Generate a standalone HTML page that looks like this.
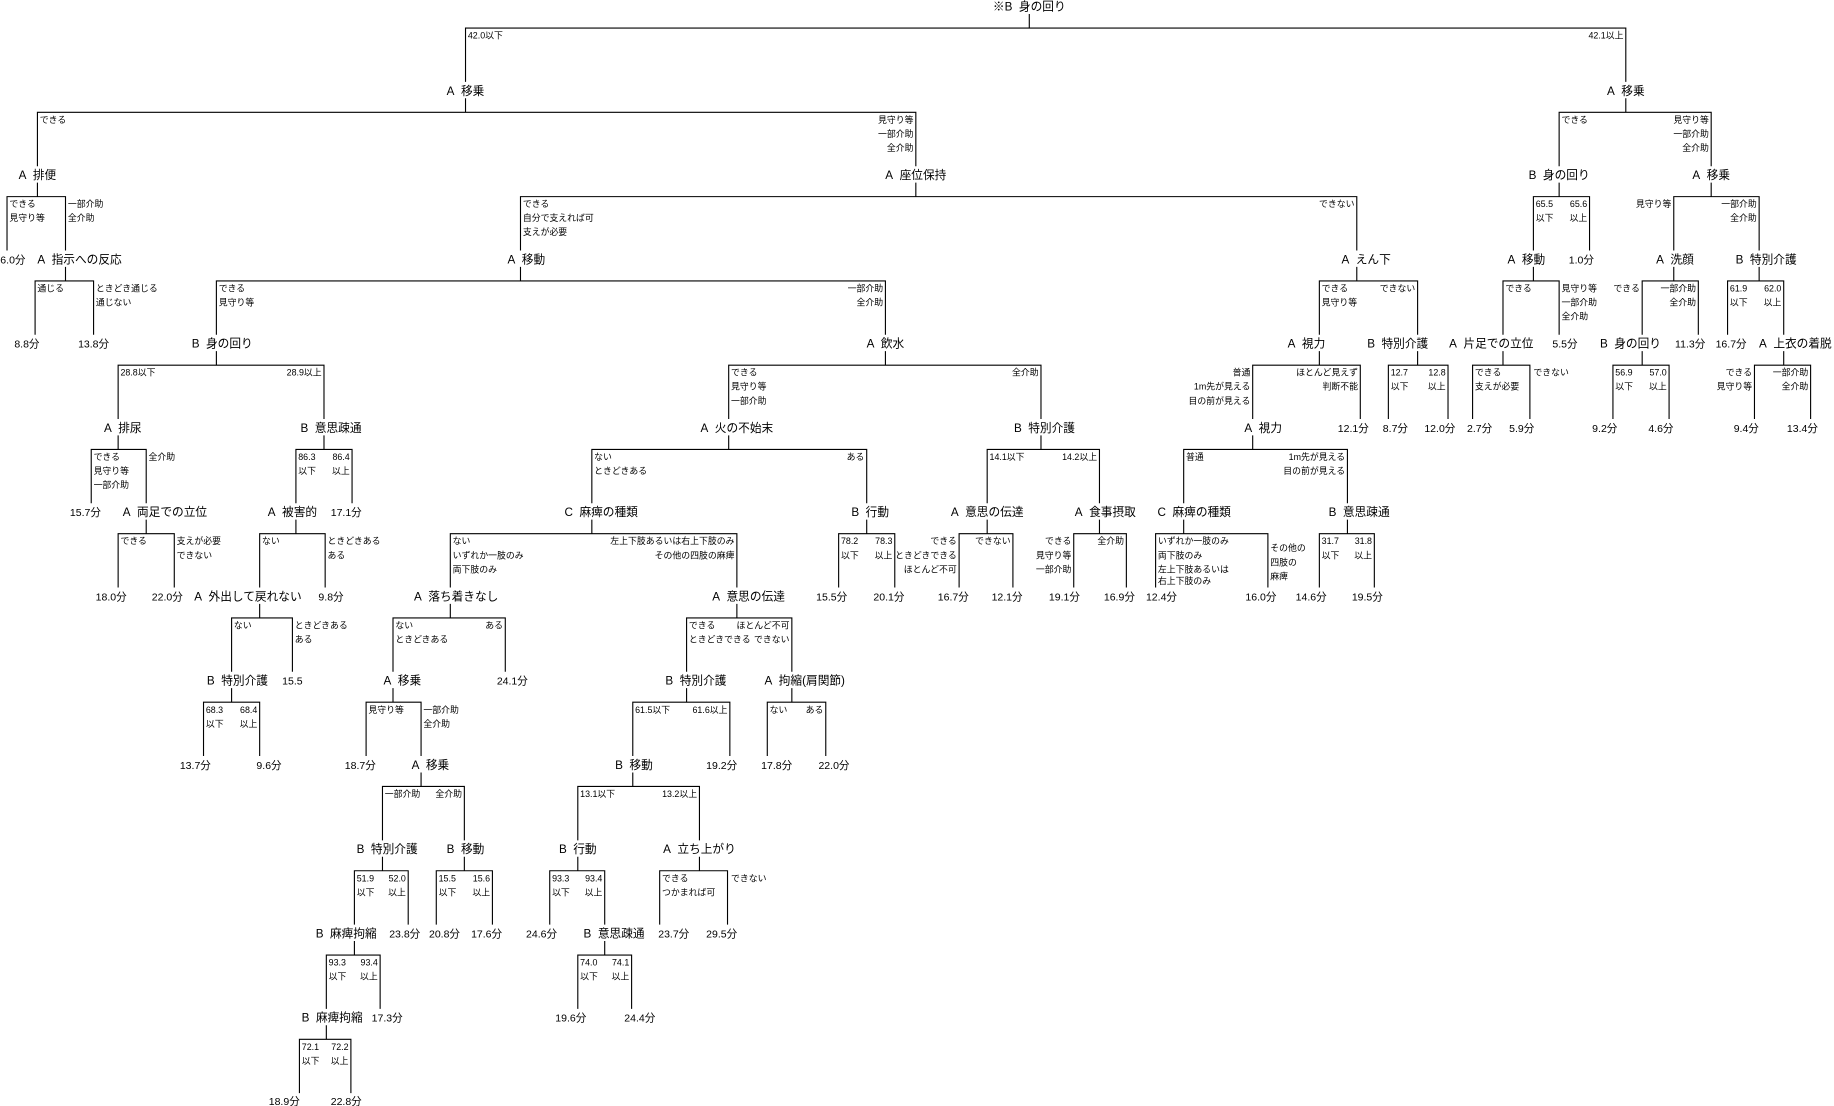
<!DOCTYPE html>
<html><head><meta charset="utf-8"><style>
html,body{margin:0;padding:0;background:#fff;width:1834px;height:1106px;overflow:hidden}
svg{display:block}
text{font-family:"Liberation Sans","Noto Sans CJK JP",sans-serif;fill:#000}
.n{font-size:10px;text-anchor:middle}
.l{font-size:9px;text-anchor:middle}
.e{font-size:7.6px}
.r{text-anchor:end}
path{stroke:#000;stroke-width:0.95;fill:none}
</style></head><body>
<svg width="1834" height="1106" viewBox="0 0 1568 945" preserveAspectRatio="none">
<text class="n" x="880" y="9">※B&#160;&#160;身の回り</text>
<path d="M880 12V24M398 70V24H1390V70"/>
<text class="e" x="400" y="33">42.0以下</text>
<text class="e r" x="1388" y="33">42.1以上</text>

<text class="n" x="398" y="81">A&#160;&#160;移乗</text>
<path d="M398 84V96M32 142V96H783V142"/>
<text class="e" x="34" y="105">できる</text>
<text class="e r" x="781" y="105">見守り等</text><text class="e r" x="781" y="117">一部介助</text><text class="e r" x="781" y="129">全介助</text>
<text class="n" x="1390" y="81">A&#160;&#160;移乗</text>
<path d="M1390 84V96M1333 142V96H1463V142"/>
<text class="e" x="1335" y="105">できる</text>
<text class="e r" x="1461" y="105">見守り等</text><text class="e r" x="1461" y="117">一部介助</text><text class="e r" x="1461" y="129">全介助</text>

<text class="n" x="32" y="153">A&#160;&#160;排便</text>
<path d="M32 156V168M6 214V168H56V214"/>
<text class="e" x="8" y="177">できる</text><text class="e" x="8" y="189">見守り等</text>
<text class="e" x="58" y="177">一部介助</text><text class="e" x="58" y="189">全介助</text>
<text class="n" x="783" y="153">A&#160;&#160;座位保持</text>
<path d="M783 156V168M445 214V168H1160V214"/>
<text class="e" x="447" y="177">できる</text><text class="e" x="447" y="189">自分で支えれば可</text><text class="e" x="447" y="201">支えが必要</text>
<text class="e r" x="1158" y="177">できない</text>
<text class="n" x="1333" y="153">B&#160;&#160;身の回り</text>
<path d="M1333 156V168M1311 214V168H1359V214"/>
<text class="e" x="1313" y="177">65.5</text><text class="e" x="1313" y="189">以下</text>
<text class="e r" x="1357" y="177">65.6</text><text class="e r" x="1357" y="189">以上</text>
<text class="n" x="1463" y="153">A&#160;&#160;移乗</text>
<path d="M1463 156V168M1431 214V168H1504V214"/>
<text class="e r" x="1429" y="177">見守り等</text>
<text class="e r" x="1502" y="177">一部介助</text><text class="e r" x="1502" y="189">全介助</text>

<text class="l" x="11" y="225">6.0分</text>
<text class="n" x="68" y="225">A&#160;&#160;指示への反応</text>
<path d="M56 228V240M30 286V240H80V286"/>
<text class="e" x="32" y="249">通じる</text>
<text class="e" x="82" y="249">ときどき通じる</text><text class="e" x="82" y="261">通じない</text>
<text class="n" x="450" y="225">A&#160;&#160;移動</text>
<path d="M445 228V240M185 286V240H757V286"/>
<text class="e" x="187" y="249">できる</text><text class="e" x="187" y="261">見守り等</text>
<text class="e r" x="755" y="249">一部介助</text><text class="e r" x="755" y="261">全介助</text>
<text class="n" x="1168" y="225">A&#160;&#160;えん下</text>
<path d="M1160 228V240M1128 286V240H1212V286"/>
<text class="e" x="1130" y="249">できる</text><text class="e" x="1130" y="261">見守り等</text>
<text class="e r" x="1210" y="249">できない</text>
<text class="n" x="1305" y="225">A&#160;&#160;移動</text>
<path d="M1311 228V240M1285 286V240H1333V286"/>
<text class="e" x="1287" y="249">できる</text>
<text class="e" x="1335" y="249">見守り等</text><text class="e" x="1335" y="261">一部介助</text><text class="e" x="1335" y="273">全介助</text>
<text class="l" x="1352" y="225">1.0分</text>
<text class="n" x="1432" y="225">A&#160;&#160;洗顔</text>
<path d="M1431 228V240M1404 286V240H1452V286"/>
<text class="e r" x="1402" y="249">できる</text>
<text class="e r" x="1450" y="249">一部介助</text><text class="e r" x="1450" y="261">全介助</text>
<text class="n" x="1510" y="225">B&#160;&#160;特別介護</text>
<path d="M1504 228V240M1477 286V240H1525V286"/>
<text class="e" x="1479" y="249">61.9</text><text class="e" x="1479" y="261">以下</text>
<text class="e r" x="1523" y="249">62.0</text><text class="e r" x="1523" y="261">以上</text>

<text class="l" x="23" y="297">8.8分</text>
<text class="l" x="80" y="297">13.8分</text>
<text class="n" x="190" y="297">B&#160;&#160;身の回り</text>
<path d="M185 300V312M101 358V312H277V358"/>
<text class="e" x="103" y="321">28.8以下</text>
<text class="e r" x="275" y="321">28.9以上</text>
<text class="n" x="757" y="297">A&#160;&#160;飲水</text>
<path d="M757 300V312M623 358V312H890V358"/>
<text class="e" x="625" y="321">できる</text><text class="e" x="625" y="333">見守り等</text><text class="e" x="625" y="345">一部介助</text>
<text class="e r" x="888" y="321">全介助</text>
<text class="n" x="1117" y="297">A&#160;&#160;視力</text>
<path d="M1128 300V312M1071 358V312H1163V358"/>
<text class="e r" x="1069" y="321">普通</text><text class="e r" x="1069" y="333">1m先が見える</text><text class="e r" x="1069" y="345">目の前が見える</text>
<text class="e r" x="1161" y="321">ほとんど見えず</text><text class="e r" x="1161" y="333">判断不能</text>
<text class="n" x="1195" y="297">B&#160;&#160;特別介護</text>
<path d="M1212 300V312M1187 358V312H1238V358"/>
<text class="e" x="1189" y="321">12.7</text><text class="e" x="1189" y="333">以下</text>
<text class="e r" x="1236" y="321">12.8</text><text class="e r" x="1236" y="333">以上</text>
<text class="n" x="1275" y="297">A&#160;&#160;片足での立位</text>
<path d="M1285 300V312M1259 358V312H1308V358"/>
<text class="e" x="1261" y="321">できる</text><text class="e" x="1261" y="333">支えが必要</text>
<text class="e" x="1311" y="321">できない</text>
<text class="l" x="1338" y="297">5.5分</text>
<text class="n" x="1394" y="297">B&#160;&#160;身の回り</text>
<path d="M1404 300V312M1379 358V312H1427V358"/>
<text class="e" x="1381" y="321">56.9</text><text class="e" x="1381" y="333">以下</text>
<text class="e r" x="1425" y="321">57.0</text><text class="e r" x="1425" y="333">以上</text>
<text class="l" x="1445" y="297">11.3分</text>
<text class="l" x="1480" y="297">16.7分</text>
<text class="n" x="1535" y="297">A&#160;&#160;上衣の着脱</text>
<path d="M1525 300V312M1500 358V312H1548V358"/>
<text class="e r" x="1498" y="321">できる</text><text class="e r" x="1498" y="333">見守り等</text>
<text class="e r" x="1546" y="321">一部介助</text><text class="e r" x="1546" y="333">全介助</text>

<text class="n" x="105" y="369">A&#160;&#160;排尿</text>
<path d="M101 372V384M78 430V384H125V430"/>
<text class="e" x="80" y="393">できる</text><text class="e" x="80" y="405">見守り等</text><text class="e" x="80" y="417">一部介助</text>
<text class="e" x="127" y="393">全介助</text>
<text class="n" x="283" y="369">B&#160;&#160;意思疎通</text>
<path d="M277 372V384M253 430V384H301V430"/>
<text class="e" x="255" y="393">86.3</text><text class="e" x="255" y="405">以下</text>
<text class="e r" x="299" y="393">86.4</text><text class="e r" x="299" y="405">以上</text>
<text class="n" x="630" y="369">A&#160;&#160;火の不始末</text>
<path d="M623 372V384M506 430V384H741V430"/>
<text class="e" x="508" y="393">ない</text><text class="e" x="508" y="405">ときどきある</text>
<text class="e r" x="739" y="393">ある</text>
<text class="n" x="893" y="369">B&#160;&#160;特別介護</text>
<path d="M890 372V384M844 430V384H940V430"/>
<text class="e" x="846" y="393">14.1以下</text>
<text class="e r" x="938" y="393">14.2以上</text>
<text class="n" x="1080" y="369">A&#160;&#160;視力</text>
<path d="M1071 372V384M1012 430V384H1152V430"/>
<text class="e" x="1014" y="393">普通</text>
<text class="e r" x="1150" y="393">1m先が見える</text><text class="e r" x="1150" y="405">目の前が見える</text>
<text class="l" x="1157" y="369">12.1分</text>
<text class="l" x="1193" y="369">8.7分</text>
<text class="l" x="1231" y="369">12.0分</text>
<text class="l" x="1265" y="369">2.7分</text>
<text class="l" x="1301" y="369">5.9分</text>
<text class="l" x="1372" y="369">9.2分</text>
<text class="l" x="1420" y="369">4.6分</text>
<text class="l" x="1493" y="369">9.4分</text>
<text class="l" x="1541" y="369">13.4分</text>

<text class="l" x="73" y="441">15.7分</text>
<text class="n" x="141" y="441">A&#160;&#160;両足での立位</text>
<path d="M125 444V456M101 502V456H149V502"/>
<text class="e" x="103" y="465">できる</text>
<text class="e" x="151" y="465">支えが必要</text><text class="e" x="151" y="477">できない</text>
<text class="n" x="250" y="441">A&#160;&#160;被害的</text>
<path d="M253 444V456M222 502V456H278V502"/>
<text class="e" x="224" y="465">ない</text>
<text class="e" x="280" y="465">ときどきある</text><text class="e" x="280" y="477">ある</text>
<text class="l" x="296" y="441">17.1分</text>
<text class="n" x="514" y="441">C&#160;&#160;麻痺の種類</text>
<path d="M506 444V456M385 502V456H630V502"/>
<text class="e" x="387" y="465">ない</text><text class="e" x="387" y="477">いずれか一肢のみ</text><text class="e" x="387" y="489">両下肢のみ</text>
<text class="e r" x="628" y="465">左上下肢あるいは右上下肢のみ</text><text class="e r" x="628" y="477">その他の四肢の麻痺</text>
<text class="n" x="744" y="441">B&#160;&#160;行動</text>
<path d="M741 444V456M717 502V456H765V502"/>
<text class="e" x="719" y="465">78.2</text><text class="e" x="719" y="477">以下</text>
<text class="e r" x="763" y="465">78.3</text><text class="e r" x="763" y="477">以上</text>
<text class="n" x="844" y="441">A&#160;&#160;意思の伝達</text>
<path d="M844 444V456M820 502V456H866V502"/>
<text class="e r" x="818" y="465">できる</text><text class="e r" x="818" y="477">ときどきできる</text><text class="e r" x="818" y="489">ほとんど不可</text>
<text class="e r" x="864" y="465">できない</text>
<text class="n" x="945" y="441">A&#160;&#160;食事摂取</text>
<path d="M940 444V456M918 502V456H963V502"/>
<text class="e r" x="916" y="465">できる</text><text class="e r" x="916" y="477">見守り等</text><text class="e r" x="916" y="489">一部介助</text>
<text class="e r" x="961" y="465">全介助</text>
<text class="n" x="1021" y="441">C&#160;&#160;麻痺の種類</text>
<path d="M1012 444V456M988 502V456H1084V502"/>
<text class="e" x="990" y="465">いずれか一肢のみ</text><text class="e" x="990" y="477">両下肢のみ</text><text class="e" x="990" y="489">左上下肢あるいは</text><text class="e" x="990" y="499">右上下肢のみ</text>
<text class="e" x="1086" y="471">その他の</text><text class="e" x="1086" y="483">四肢の</text><text class="e" x="1086" y="495">麻痺</text>
<text class="n" x="1162" y="441">B&#160;&#160;意思疎通</text>
<path d="M1152 444V456M1128 502V456H1175V502"/>
<text class="e" x="1130" y="465">31.7</text><text class="e" x="1130" y="477">以下</text>
<text class="e r" x="1173" y="465">31.8</text><text class="e r" x="1173" y="477">以上</text>

<text class="l" x="95" y="513">18.0分</text>
<text class="l" x="143" y="513">22.0分</text>
<text class="n" x="212" y="513">A&#160;&#160;外出して戻れない</text>
<path d="M222 516V528M198 574V528H250V574"/>
<text class="e" x="200" y="537">ない</text>
<text class="e" x="252" y="537">ときどきある</text><text class="e" x="252" y="549">ある</text>
<text class="l" x="283" y="513">9.8分</text>
<text class="n" x="390" y="513">A&#160;&#160;落ち着きなし</text>
<path d="M385 516V528M336 574V528H432V574"/>
<text class="e" x="338" y="537">ない</text><text class="e" x="338" y="549">ときどきある</text>
<text class="e r" x="430" y="537">ある</text>
<text class="n" x="640" y="513">A&#160;&#160;意思の伝達</text>
<path d="M630 516V528M587 574V528H677V574"/>
<text class="e" x="589" y="537">できる</text><text class="e" x="589" y="549">ときどきできる</text>
<text class="e r" x="675" y="537">ほとんど不可</text><text class="e r" x="675" y="549">できない</text>
<text class="l" x="711" y="513">15.5分</text>
<text class="l" x="760" y="513">20.1分</text>
<text class="l" x="815" y="513">16.7分</text>
<text class="l" x="861" y="513">12.1分</text>
<text class="l" x="910" y="513">19.1分</text>
<text class="l" x="957" y="513">16.9分</text>
<text class="l" x="993" y="513">12.4分</text>
<text class="l" x="1078" y="513">16.0分</text>
<text class="l" x="1121" y="513">14.6分</text>
<text class="l" x="1169" y="513">19.5分</text>

<text class="n" x="203" y="585">B&#160;&#160;特別介護</text>
<path d="M198 588V600M174 646V600H222V646"/>
<text class="e" x="176" y="609">68.3</text><text class="e" x="176" y="621">以下</text>
<text class="e r" x="220" y="609">68.4</text><text class="e r" x="220" y="621">以上</text>
<text class="l" x="250" y="585">15.5</text>
<text class="n" x="344" y="585">A&#160;&#160;移乗</text>
<path d="M336 588V600M313 646V600H360V646"/>
<text class="e" x="315" y="609">見守り等</text>
<text class="e" x="362" y="609">一部介助</text><text class="e" x="362" y="621">全介助</text>
<text class="l" x="438" y="585">24.1分</text>
<text class="n" x="595" y="585">B&#160;&#160;特別介護</text>
<path d="M587 588V600M541 646V600H624V646"/>
<text class="e" x="543" y="609">61.5以下</text>
<text class="e r" x="622" y="609">61.6以上</text>
<text class="n" x="688" y="585">A&#160;&#160;拘縮(肩関節)</text>
<path d="M677 588V600M656 646V600H706V646"/>
<text class="e" x="658" y="609">ない</text>
<text class="e r" x="704" y="609">ある</text>

<text class="l" x="167" y="657">13.7分</text>
<text class="l" x="230" y="657">9.6分</text>
<text class="l" x="308" y="657">18.7分</text>
<text class="n" x="368" y="657">A&#160;&#160;移乗</text>
<path d="M360 660V672M327 718V672H397V718"/>
<text class="e" x="329" y="681">一部介助</text>
<text class="e r" x="395" y="681">全介助</text>
<text class="n" x="542" y="657">B&#160;&#160;移動</text>
<path d="M541 660V672M494 718V672H598V718"/>
<text class="e" x="496" y="681">13.1以下</text>
<text class="e r" x="596" y="681">13.2以上</text>
<text class="l" x="617" y="657">19.2分</text>
<text class="l" x="664" y="657">17.8分</text>
<text class="l" x="713" y="657">22.0分</text>

<text class="n" x="331" y="729">B&#160;&#160;特別介護</text>
<path d="M327 732V744M303 790V744H349V790"/>
<text class="e" x="305" y="753">51.9</text><text class="e" x="305" y="765">以下</text>
<text class="e r" x="347" y="753">52.0</text><text class="e r" x="347" y="765">以上</text>
<text class="n" x="398" y="729">B&#160;&#160;移動</text>
<path d="M397 732V744M373 790V744H421V790"/>
<text class="e" x="375" y="753">15.5</text><text class="e" x="375" y="765">以下</text>
<text class="e r" x="419" y="753">15.6</text><text class="e r" x="419" y="765">以上</text>
<text class="n" x="494" y="729">B&#160;&#160;行動</text>
<path d="M494 732V744M470 790V744H517V790"/>
<text class="e" x="472" y="753">93.3</text><text class="e" x="472" y="765">以下</text>
<text class="e r" x="515" y="753">93.4</text><text class="e r" x="515" y="765">以上</text>
<text class="n" x="598" y="729">A&#160;&#160;立ち上がり</text>
<path d="M598 732V744M564 790V744H622V790"/>
<text class="e" x="566" y="753">できる</text><text class="e" x="566" y="765">つかまれば可</text>
<text class="e" x="625" y="753">できない</text>

<text class="n" x="296" y="801">B&#160;&#160;麻痺拘縮</text>
<path d="M303 804V816M279 862V816H325V862"/>
<text class="e" x="281" y="825">93.3</text><text class="e" x="281" y="837">以下</text>
<text class="e r" x="323" y="825">93.4</text><text class="e r" x="323" y="837">以上</text>
<text class="l" x="346" y="801">23.8分</text>
<text class="l" x="380" y="801">20.8分</text>
<text class="l" x="416" y="801">17.6分</text>
<text class="l" x="463" y="801">24.6分</text>
<text class="n" x="525" y="801">B&#160;&#160;意思疎通</text>
<path d="M517 804V816M494 862V816H540V862"/>
<text class="e" x="496" y="825">74.0</text><text class="e" x="496" y="837">以下</text>
<text class="e r" x="538" y="825">74.1</text><text class="e r" x="538" y="837">以上</text>
<text class="l" x="576" y="801">23.7分</text>
<text class="l" x="617" y="801">29.5分</text>

<text class="n" x="284" y="873">B&#160;&#160;麻痺拘縮</text>
<path d="M279 876V888M256 934V888H300V934"/>
<text class="e" x="258" y="897">72.1</text><text class="e" x="258" y="909">以下</text>
<text class="e r" x="298" y="897">72.2</text><text class="e r" x="298" y="909">以上</text>
<text class="l" x="331" y="873">17.3分</text>
<text class="l" x="488" y="873">19.6分</text>
<text class="l" x="547" y="873">24.4分</text>

<text class="l" x="243" y="944">18.9分</text>
<text class="l" x="296" y="944">22.8分</text>
</svg>
</body></html>
